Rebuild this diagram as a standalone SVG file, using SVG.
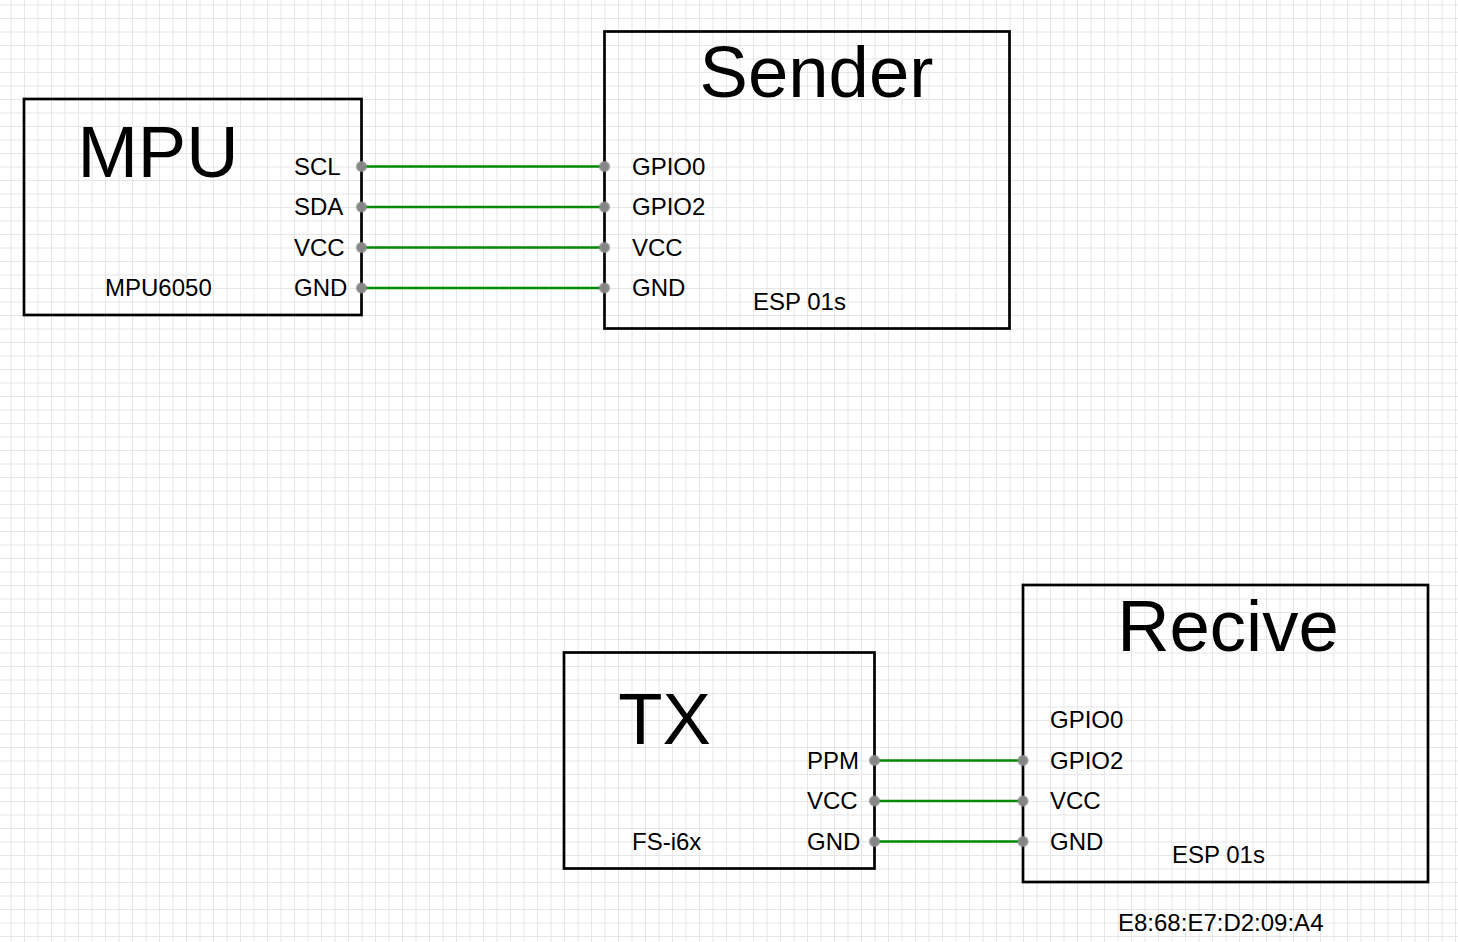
<svg xmlns="http://www.w3.org/2000/svg" width="1458" height="942" viewBox="0 0 1458 942">
<style>
.box{fill:none;stroke:#000;stroke-width:2.7}
.wire{stroke:#008a00;stroke-width:2.7;fill:none}
.pin{fill:#858585;stroke:#8c8c8c;stroke-opacity:.7;stroke-width:2.4}
text{font-family:"Liberation Sans",Arial,sans-serif;fill:#000}
.t{font-size:72.500px}
.s{font-size:24px}
</style>
<defs>
<pattern id="g" width="27" height="27" patternUnits="userSpaceOnUse" x="24" y="18">
<path d="M0.5 0V27M14 0V27M0 0.5H27M0 14H27" stroke="#e6e6e6" stroke-width="1" fill="none"/>
</pattern>
</defs>
<rect width="1458" height="942" fill="#fff"/>
<rect width="1458" height="942" fill="url(#g)"/>
<g id="connectors">
<path class="wire" d="M361 166.500H604M361 207H604M361 247.500H604M361 288H604M874 760.500H1023M874 801H1023M874 841.500H1023"/>
</g>
<g id="mpu">
<rect class="box" x="24" y="99" width="337.500" height="216"/>
<text class="t" x="158" y="177" text-anchor="middle">MPU</text>
<text class="s" x="294" y="175">SCL</text>
<text class="s" x="294" y="215">SDA</text>
<text class="s" x="294" y="256">VCC</text>
<text class="s" x="294" y="296">GND</text>
<text class="s" x="105" y="296">MPU6050</text>
<circle class="pin" cx="361.500" cy="166.500" r="4.500"/><circle class="pin" cx="361.500" cy="207" r="4.500"/><circle class="pin" cx="361.500" cy="247.500" r="4.500"/><circle class="pin" cx="361.500" cy="288" r="4.500"/>
</g>
<g id="sender">
<rect class="box" x="604.500" y="31.500" width="405" height="297"/>
<text class="t" x="816.500" y="97" text-anchor="middle">Sender</text>
<text class="s" x="632" y="175">GPIO0</text>
<text class="s" x="632" y="215">GPIO2</text>
<text class="s" x="632" y="256">VCC</text>
<text class="s" x="632" y="296">GND</text>
<text class="s" x="753" y="310">ESP 01s</text>
<circle class="pin" cx="604.500" cy="166.500" r="4.500"/><circle class="pin" cx="604.500" cy="207" r="4.500"/><circle class="pin" cx="604.500" cy="247.500" r="4.500"/><circle class="pin" cx="604.500" cy="288" r="4.500"/>
</g>
<g id="tx">
<rect class="box" x="564" y="652.500" width="310.500" height="216"/>
<text class="t" x="664.500" y="744" text-anchor="middle">TX</text>
<text class="s" x="807" y="769">PPM</text>
<text class="s" x="807" y="809">VCC</text>
<text class="s" x="807" y="850">GND</text>
<text class="s" x="632" y="850">FS-i6x</text>
<circle class="pin" cx="874.500" cy="760.500" r="4.500"/><circle class="pin" cx="874.500" cy="801" r="4.500"/><circle class="pin" cx="874.500" cy="841.500" r="4.500"/>
</g>
<g id="recive">
<rect class="box" x="1023" y="585" width="405" height="297"/>
<text class="t" x="1228" y="651" text-anchor="middle">Recive</text>
<text class="s" x="1050" y="728">GPIO0</text>
<text class="s" x="1050" y="769">GPIO2</text>
<text class="s" x="1050" y="809">VCC</text>
<text class="s" x="1050" y="850">GND</text>
<text class="s" x="1172" y="863">ESP 01s</text>
<circle class="pin" cx="1023" cy="760.500" r="4.500"/><circle class="pin" cx="1023" cy="801" r="4.500"/><circle class="pin" cx="1023" cy="841.500" r="4.500"/>
</g>
<text class="s" x="1118" y="931">E8:68:E7:D2:09:A4</text>
</svg>
